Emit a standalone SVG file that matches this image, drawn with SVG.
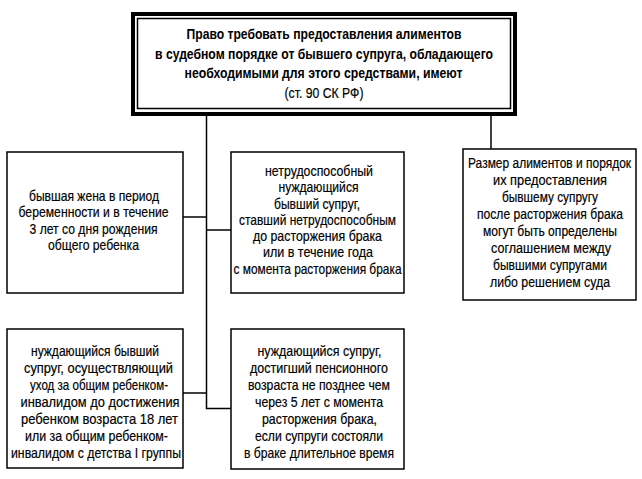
<svg xmlns="http://www.w3.org/2000/svg" width="642" height="479" viewBox="0 0 642 479">
<style>
.box{fill:#fff;stroke:#000;stroke-width:1.5}
.ln{fill:none;stroke:#000;stroke-width:1.5}
text{font-family:"Liberation Sans Narrow","Arial Narrow","Liberation Sans",Arial,sans-serif;fill:#000;text-anchor:middle}
.t{font-size:15px;stroke:#000;stroke-width:0.2}
.h{font-size:15.5px;font-weight:bold}
.hr{font-size:15px;stroke:#000;stroke-width:0.2}
</style>
<rect width="642" height="479" fill="#fff"/>
<g id="connectors">
<path class="ln" d="M206.5,115 V408.5 H231"/>
<path class="ln" d="M183,217 H206.5"/>
<path class="ln" d="M206.5,230 H231"/>
<path class="ln" d="M183,393 H206.5"/>
<path class="ln" d="M491,115 V149"/>
</g>
<g id="main">
<rect x="133" y="14" width="382" height="100" fill="#fff" stroke="#000" stroke-width="4"/>
<rect x="137.5" y="18.5" width="373" height="90" fill="none" stroke="#000" stroke-width="1.5"/>
<text class="h" x="324" y="39" textLength="275" lengthAdjust="spacingAndGlyphs">Право требовать предоставления алиментов</text>
<text class="h" x="324" y="58.5" textLength="338" lengthAdjust="spacingAndGlyphs">в судебном порядке от бывшего супруга, обладающего</text>
<text class="h" x="323.5" y="78" textLength="278" lengthAdjust="spacingAndGlyphs">необходимыми для этого средствами, имеют</text>
<text class="hr" x="324" y="97.5" textLength="79" lengthAdjust="spacingAndGlyphs">(ст. 90 СК РФ)</text>
</g>
<g id="n1">
<rect class="box" x="7" y="152" width="176" height="141"/>
<text class="t" x="94" y="201" textLength="130" lengthAdjust="spacingAndGlyphs">бывшая жена в период</text>
<text class="t" x="93.5" y="217" textLength="150" lengthAdjust="spacingAndGlyphs">беременности и в течение</text>
<text class="t" x="93.5" y="233.5" textLength="128" lengthAdjust="spacingAndGlyphs">3 лет со дня рождения</text>
<text class="t" x="93.5" y="250" textLength="91" lengthAdjust="spacingAndGlyphs">общего ребенка</text>
</g>
<g id="n2">
<rect class="box" x="231" y="152" width="173" height="141"/>
<text class="t" x="319" y="176" textLength="108" lengthAdjust="spacingAndGlyphs">нетрудоспособный</text>
<text class="t" x="318.5" y="192" textLength="80" lengthAdjust="spacingAndGlyphs">нуждающийся</text>
<text class="t" x="317" y="208.5" textLength="86" lengthAdjust="spacingAndGlyphs">бывший супруг,</text>
<text class="t" x="317.5" y="224.5" textLength="157" lengthAdjust="spacingAndGlyphs">ставший нетрудоспособным</text>
<text class="t" x="317.5" y="241" textLength="129" lengthAdjust="spacingAndGlyphs">до расторжения брака</text>
<text class="t" x="318" y="257" textLength="110" lengthAdjust="spacingAndGlyphs">или в течение года</text>
<text class="t" x="317.5" y="273.5" textLength="168" lengthAdjust="spacingAndGlyphs">с момента расторжения брака</text>
</g>
<g id="n3">
<rect class="box" x="463" y="149" width="173" height="151"/>
<g transform="translate(550 0) scale(0.8 1)">
<text class="t" x="-0.6" y="168" textLength="203.75" lengthAdjust="spacingAndGlyphs">Размер алиментов и порядок</text>
<text class="t" x="0" y="185" textLength="142.5" lengthAdjust="spacingAndGlyphs">их предоставления</text>
<text class="t" x="0" y="202" textLength="120" lengthAdjust="spacingAndGlyphs">бывшему супругу</text>
<text class="t" x="0" y="219" textLength="182.5" lengthAdjust="spacingAndGlyphs">после расторжения брака</text>
<text class="t" x="0" y="236" textLength="167.5" lengthAdjust="spacingAndGlyphs">могут быть определены</text>
<text class="t" x="1.2" y="253" textLength="150" lengthAdjust="spacingAndGlyphs">соглашением между</text>
<text class="t" x="0" y="270" textLength="142.5" lengthAdjust="spacingAndGlyphs">бывшими супругами</text>
<text class="t" x="0" y="287" textLength="150" lengthAdjust="spacingAndGlyphs">либо решением суда</text>
</g>
</g>
<g id="n4">
<rect class="box" x="7" y="329" width="176" height="139"/>
<text class="t" x="95" y="355.5" textLength="128" lengthAdjust="spacingAndGlyphs">нуждающийся бывший</text>
<text class="t" x="98.5" y="372.5" textLength="149" lengthAdjust="spacingAndGlyphs">супруг, осуществляющий</text>
<text class="t" x="99" y="389.5" textLength="138" lengthAdjust="spacingAndGlyphs">уход за общим ребенком-</text>
<text class="t" x="100" y="406.5" textLength="159" lengthAdjust="spacingAndGlyphs">инвалидом до достижения</text>
<text class="t" x="99.5" y="423.5" textLength="157" lengthAdjust="spacingAndGlyphs">ребенком возраста 18 лет</text>
<text class="t" x="96.5" y="440.5" textLength="143" lengthAdjust="spacingAndGlyphs">или за общим ребенком-</text>
<text class="t" x="96" y="457.5" textLength="170" lengthAdjust="spacingAndGlyphs">инвалидом с детства I группы</text>
</g>
<g id="n5">
<rect class="box" x="231" y="329" width="173" height="140"/>
<text class="t" x="319.5" y="355.5" textLength="124" lengthAdjust="spacingAndGlyphs">нуждающийся супруг,</text>
<text class="t" x="319" y="372.5" textLength="138" lengthAdjust="spacingAndGlyphs">достигший пенсионного</text>
<text class="t" x="319" y="389.5" textLength="142" lengthAdjust="spacingAndGlyphs">возраста не позднее чем</text>
<text class="t" x="319" y="406.5" textLength="128" lengthAdjust="spacingAndGlyphs">через 5 лет с момента</text>
<text class="t" x="319.5" y="423.5" textLength="115" lengthAdjust="spacingAndGlyphs">расторжения брака,</text>
<text class="t" x="319" y="440.5" textLength="128" lengthAdjust="spacingAndGlyphs">если супруги состояли</text>
<text class="t" x="319" y="457.5" textLength="150" lengthAdjust="spacingAndGlyphs">в браке длительное время</text>
</g>
</svg>
